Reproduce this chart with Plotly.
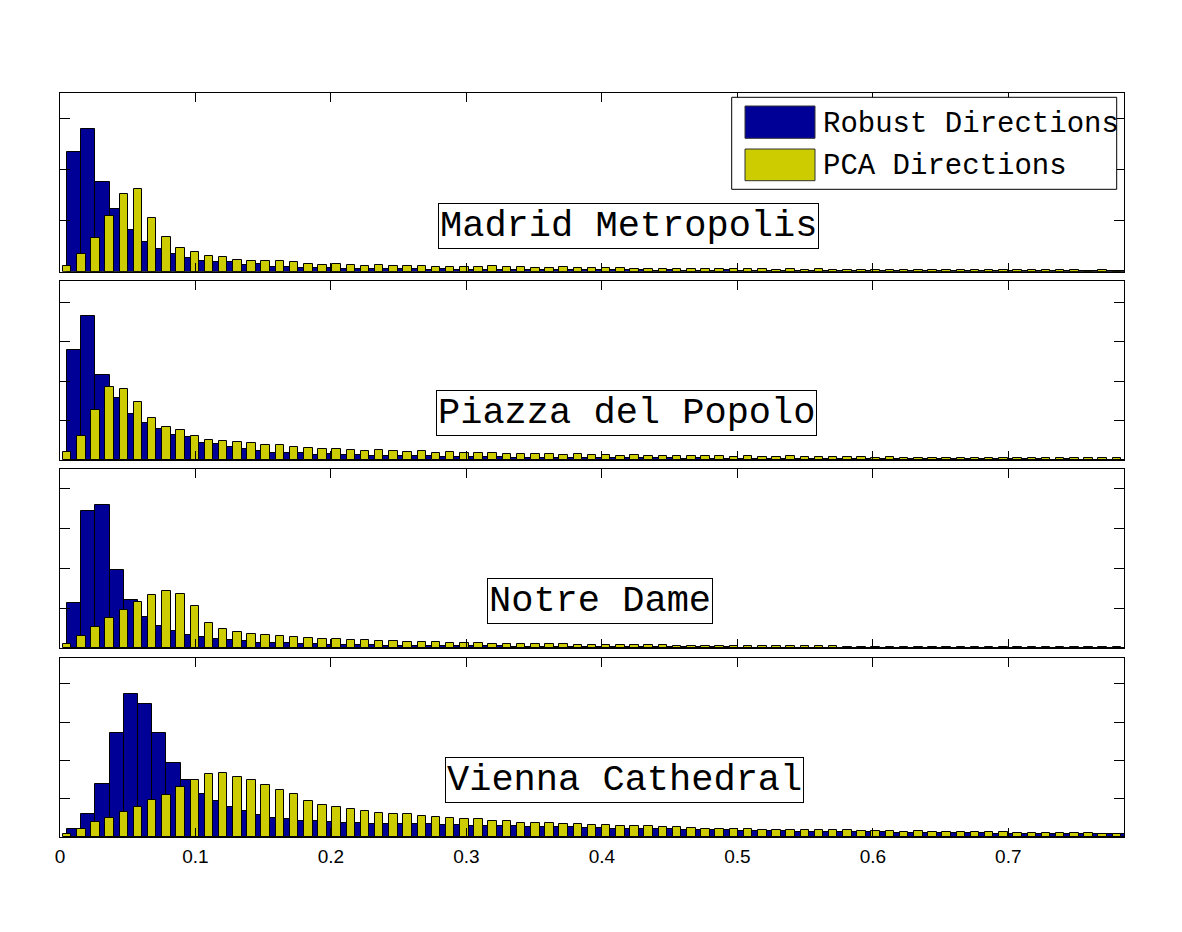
import numpy as np
import plotly.graph_objects as go

# ---------------- data (histogram heights, in y-tick units) ----------------
n_bins = 75
x_max = np.pi / 4
x_tick_vals = [0, 0.1, 0.2, 0.3, 0.4, 0.5, 0.6, 0.7]
x_tick_text = ["0", "0.1", "0.2", "0.3", "0.4", "0.5", "0.6", "0.7"]
series_names = ["Robust Directions", "PCA Directions"]
panel_titles = ["Madrid Metropolis", "Piazza del Popolo", "Notre Dame", "Vienna Cathedral"]

robust_madrid = [2.34, 2.79, 1.75, 1.22, 0.81, 0.58, 0.45, 0.34, 0.27, 0.21, 0.19, 0.18, 0.14, 0.16, 0.10, 0.10, 0.07, 0.08,
                 0.07, 0.06, 0.06, 0.05, 0.06, 0.05, 0.05, 0.04, 0.05, 0.04,
                 0.04, 0.04, 0.035, 0.035, 0.03, 0.03, 0.035, 0.03, 0.03, 0.025,
                 0.03, 0.025, 0.025, 0.02, 0.025, 0.02, 0.02, 0.02, 0.025, 0.02,
                 0.02, 0.015, 0.02, 0.015, 0.015, 0.02, 0.015, 0.015, 0.015, 0.01,
                 0.015, 0.01, 0.015, 0.01, 0.01, 0.01, 0.015, 0.01, 0.01, 0.01,
                 0.01, 0.008, 0.01, 0.008, 0.008, 0.01, 0.008]
pca_madrid = [0.12, 0.34, 0.66, 1.08, 1.52, 1.61, 1.05, 0.68, 0.47, 0.38, 0.30, 0.29, 0.23, 0.21, 0.21, 0.21, 0.195,
              0.16, 0.14, 0.15, 0.14, 0.11, 0.14, 0.12, 0.11, 0.11, 0.085, 0.10, 0.085, 0.10, 0.11, 0.09, 0.085,
              0.065, 0.07, 0.085, 0.065, 0.065, 0.065, 0.07, 0.05, 0.045, 0.05,
              0.055, 0.05, 0.045, 0.055, 0.045, 0.045, 0.05, 0.04, 0.045, 0.04, 0.045, 0.035, 0.04, 0.035, 0.035,
              0.04, 0.035, 0.03, 0.035, 0.03, 0.035, 0.03, 0.03, 0.03, 0.025, 0.03, 0.03, 0.025, 0.025, 0.02,
              0.025, 0.02]

robust_piazza = [2.78, 3.64, 2.15, 1.57, 1.17, 0.93, 0.79, 0.63, 0.58, 0.42, 0.41, 0.32, 0.27, 0.24, 0.19, 0.17, 0.17, 0.13,
                 0.14, 0.12, 0.12, 0.11, 0.10, 0.10, 0.09, 0.09, 0.08, 0.08,
                 0.07, 0.07, 0.07, 0.06, 0.06, 0.06, 0.05, 0.05, 0.05, 0.05,
                 0.045, 0.04, 0.045, 0.04, 0.04, 0.035, 0.04, 0.035, 0.035, 0.03,
                 0.03, 0.03, 0.03, 0.025, 0.03, 0.025, 0.025, 0.025, 0.02, 0.025,
                 0.02, 0.02, 0.02, 0.02, 0.015, 0.02, 0.015, 0.015, 0.015, 0.015,
                 0.015, 0.01, 0.015, 0.01, 0.01, 0.01, 0.01]
pca_piazza = [0.21, 0.60, 1.27, 1.84, 1.81, 1.48, 1.06, 0.84, 0.75, 0.60, 0.52, 0.48, 0.45, 0.44, 0.39, 0.37, 0.32, 0.30,
              0.29, 0.27, 0.26, 0.24, 0.25, 0.22, 0.21, 0.22, 0.19, 0.20,
              0.18, 0.17, 0.18, 0.15, 0.16, 0.14, 0.15, 0.13, 0.14, 0.12,
              0.12, 0.11, 0.12, 0.10, 0.11, 0.10, 0.09, 0.10, 0.09, 0.08,
              0.09, 0.08, 0.08, 0.09, 0.07, 0.08, 0.07, 0.07, 0.07, 0.06,
              0.065, 0.06, 0.06, 0.055, 0.06, 0.055, 0.05, 0.055, 0.05, 0.05,
              0.045, 0.05, 0.045, 0.04, 0.045, 0.04, 0.04]

robust_notre = [1.13, 3.45, 3.60, 1.97, 1.21, 0.79, 0.55, 0.44, 0.34, 0.28, 0.24, 0.21, 0.18, 0.14, 0.13, 0.13, 0.11, 0.10,
                0.09, 0.09, 0.08, 0.08, 0.07, 0.07, 0.065, 0.06, 0.06, 0.055,
                0.05, 0.05, 0.05, 0.045, 0.045, 0.04, 0.04, 0.04, 0.035, 0.035,
                0.035, 0.03, 0.03, 0.03, 0.03, 0.025, 0.025, 0.025, 0.025, 0.02,
                0.02, 0.02, 0.02, 0.02, 0.02, 0.015, 0.015, 0.015, 0.015, 0.015,
                0.015, 0.015, 0.01, 0.01, 0.01, 0.01, 0.01, 0.01, 0.01, 0.01,
                0.01, 0.01, 0.008, 0.008, 0.008, 0.008, 0.008]
pca_notre = [0.10, 0.31, 0.54, 0.75, 0.95, 1.16, 1.35, 1.44, 1.37, 1.06, 0.63, 0.48, 0.41, 0.35, 0.33, 0.31, 0.28, 0.25,
             0.24, 0.23, 0.21, 0.20, 0.19, 0.18, 0.17, 0.16, 0.15, 0.14,
             0.14, 0.13, 0.12, 0.12, 0.11, 0.11, 0.10, 0.10, 0.09, 0.09,
             0.085, 0.08, 0.08, 0.075, 0.08, 0.07, 0.07, 0.065, 0.065, 0.06,
             0.06, 0.06, 0.055, 0.055, 0.05, 0.05, 0.05, 0.045, 0.045, 0.045,
             0.04, 0.045, 0.04, 0.04, 0.035, 0.04, 0.035, 0.035, 0.035, 0.03,
             0.03, 0.035, 0.03, 0.03, 0.03, 0.025, 0.03]

robust_vienna = [0.20, 0.61, 1.37, 2.72, 3.74, 3.48, 2.72, 1.94, 1.49, 1.13, 0.95, 0.79, 0.69, 0.57, 0.50, 0.48,
                 0.43, 0.41, 0.39, 0.37, 0.36, 0.35, 0.35, 0.34, 0.33, 0.34,
                 0.32, 0.31, 0.30, 0.29, 0.28, 0.28, 0.27, 0.26, 0.25, 0.25,
                 0.24, 0.23, 0.22, 0.22, 0.21, 0.20, 0.20, 0.19, 0.18, 0.18,
                 0.17, 0.16, 0.16, 0.15, 0.15, 0.14, 0.14, 0.13, 0.13, 0.12,
                 0.12, 0.12, 0.11, 0.11, 0.11, 0.10, 0.10, 0.10, 0.10, 0.09,
                 0.09, 0.09, 0.09, 0.08, 0.08, 0.08, 0.08, 0.08, 0.07]
pca_vienna = [0.07, 0.22, 0.39, 0.50, 0.65, 0.77, 0.96, 1.09, 1.31, 1.50, 1.65, 1.68, 1.56, 1.48, 1.35, 1.23, 1.13, 0.94,
              0.83, 0.78, 0.74, 0.67, 0.63, 0.59, 0.59, 0.55, 0.52, 0.50,
              0.46, 0.47, 0.43, 0.41, 0.37, 0.37, 0.37, 0.34, 0.34, 0.32,
              0.32, 0.29, 0.29, 0.28, 0.26, 0.25, 0.23, 0.22, 0.22, 0.22,
              0.21, 0.19, 0.19, 0.19, 0.18, 0.17, 0.17, 0.17, 0.16, 0.16,
              0.15, 0.14, 0.15, 0.14, 0.13, 0.13, 0.13, 0.12, 0.12, 0.11,
              0.11, 0.11, 0.10, 0.10, 0.10, 0.09, 0.09]

y_tops = [3.49, 4.54, 4.5, 4.67]

# ---------------- styling ----------------
NAVY = "#000096"
YELLOW = "#CCCC00"
W, H = 1182, 932
ML, MR, MT, MB = 60, 58, 93, 95
PW, PH = W - ML - MR, H - MT - MB


def px_x(p):
    return (p - ML) / PW


def px_y(p):
    return (H - MB - p) / PH


def clamp(v):
    return max(0.0, min(1.0, v))


panel_px = [(93, 271.7), (281, 460), (469, 648.3), (658, 837)]
label_centers = [(628.5, 225.5), (626, 412.5), (599.5, 600.5), (624, 779.5)]

edges = np.linspace(0, x_max, n_bins + 1)
bw = edges[1] - edges[0]
robust_x = edges[1:]
pca_x = (edges[:-1] + edges[1:]) / 2

robust_all = [robust_madrid, robust_piazza, robust_notre, robust_vienna]
pca_all = [pca_madrid, pca_piazza, pca_notre, pca_vienna]

fig = go.Figure()
mono = "Liberation Mono, Courier New, monospace"

for k in range(4):
    suf = "" if k == 0 else str(k + 1)
    fig.add_trace(go.Bar(x=robust_x, y=robust_all[k], width=bw, name=series_names[0],
                         marker=dict(color=NAVY, line=dict(color="black", width=1)),
                         xaxis="x" + suf, yaxis="y" + suf, showlegend=False))
    fig.add_trace(go.Bar(x=pca_x, y=pca_all[k], width=0.6 * bw, name=series_names[1],
                         marker=dict(color=YELLOW, line=dict(color="black", width=1)),
                         xaxis="x" + suf, yaxis="y" + suf, showlegend=False))
    top, bot = panel_px[k]
    fig.layout["xaxis" + suf] = dict(
        domain=[0, 1], anchor="y" + suf, range=[0, x_max],
        tickvals=x_tick_vals, ticktext=x_tick_text, ticks="inside", ticklen=9,
        tickcolor="black", showline=True, linecolor="black", linewidth=1, mirror="ticks",
        showgrid=False, zeroline=False, showticklabels=(k == 3), ticklabelstandoff=2,
        tickfont=dict(family="Liberation Sans, Arial, sans-serif", size=19, color="black"))
    fig.layout["yaxis" + suf] = dict(
        domain=[clamp(px_y(bot)), clamp(px_y(top))], anchor="x" + suf, range=[0, y_tops[k]],
        tickvals=[1, 2, 3, 4], ticks="inside", ticklen=10, tickcolor="black",
        showline=True, linecolor="black", linewidth=1, mirror="ticks",
        showgrid=False, zeroline=False, showticklabels=False)
    cx, cy = label_centers[k]
    fig.add_annotation(x=px_x(cx), y=px_y(cy), xref="paper", yref="paper",
                       text=panel_titles[k], showarrow=False,
                       font=dict(family=mono, size=37, color="black"),
                       bgcolor="white", bordercolor="black", borderwidth=1, borderpad=1,
                       xanchor="center", yanchor="middle")

# custom legend (box + swatches + labels)
fig.add_shape(type="rect", xref="paper", yref="paper",
              x0=px_x(731.7), x1=px_x(1116.7), y0=px_y(189.3), y1=px_y(97.3),
              line=dict(color="black", width=1), fillcolor="white")
for (t, b), col, name in [((106, 138.3), NAVY, series_names[0]), ((149, 180.7), YELLOW, series_names[1])]:
    fig.add_shape(type="rect", xref="paper", yref="paper",
                  x0=px_x(745), x1=px_x(815), y0=px_y(b), y1=px_y(t),
                  line=dict(color="#333333", width=1), fillcolor=col)
    fig.add_annotation(x=px_x(821), y=px_y((t + b) / 2 + 2), xref="paper", yref="paper",
                       text=name, showarrow=False, xanchor="left", yanchor="middle",
                       font=dict(family=mono, size=29, color="black"))

fig.update_layout(width=W, height=H, barmode="overlay", bargap=0,
                  margin=dict(l=ML, r=MR, t=MT, b=MB),
                  paper_bgcolor="white", plot_bgcolor="white")

fig.write_html("out.html")
